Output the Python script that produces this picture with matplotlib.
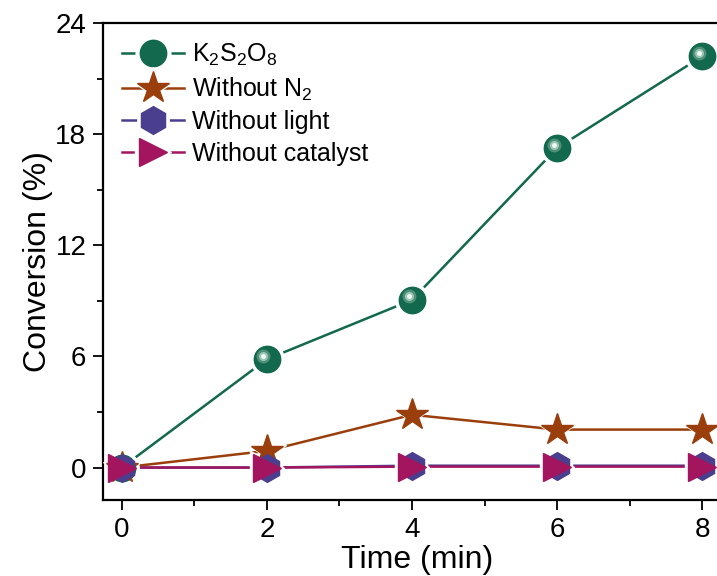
import matplotlib.pyplot as plt
import matplotlib.transforms as mtransforms
from matplotlib.legend_handler import HandlerTuple
from matplotlib.ticker import MultipleLocator

plt.rcParams["font.family"] = ["Liberation Sans", "DejaVu Sans"]
plt.rcParams["mathtext.fontset"] = "custom"
plt.rcParams["mathtext.rm"] = "Liberation Sans"

time_min = [0, 2, 4, 6, 8]
conv_k2s2o8 = [0, 5.85, 9.05, 17.25, 22.2]
conv_no_n2 = [0, 0.9, 2.85, 2.05, 2.05]
conv_no_light = [0, 0, 0.1, 0.1, 0.1]
conv_no_cat = [0, 0, 0.05, 0.05, 0.05]

GREEN = "#12694d"
BROWN = "#9a3e0b"
PURPLE = "#4a3f8e"
MAGENTA = "#a3155f"

fig = plt.figure(figsize=(7.17, 5.76), dpi=100)
ax = fig.add_axes([0.1437, 0.132, 0.876, 0.828])

series = [
    (conv_k2s2o8, GREEN, "o", 19, r"K$_2$S$_2$O$_8$"),
    (conv_no_n2, BROWN, "*", 24, r"Without N$_2$"),
    (conv_no_light, PURPLE, "h", 20, "Without light"),
    (conv_no_cat, MAGENTA, ">", 20, "Without catalyst"),
]

# lines first, then white halos (to gap the lines), then the markers
for vals, col, mk, ms, lab in series:
    ax.plot(time_min, vals, color=col, lw=1.8, zorder=2)
for vals, col, mk, ms, lab in series:
    ax.plot(time_min, vals, ls="none", marker=mk, ms=ms + 5, color="white",
            mec="white", zorder=3)
for i, (vals, col, mk, ms, lab) in enumerate(series):
    ax.plot(time_min, vals, ls="none", marker=mk, ms=ms, color=col,
            mec=col, zorder=4 + i)

# glossy highlight on the spheres
hl = mtransforms.offset_copy(ax.transData, fig=fig, x=-2.5, y=2.5, units="points")
ax.plot(time_min, conv_k2s2o8, ls="none", marker="o", ms=10, color="#4f9079",
        mec="none", transform=hl, zorder=4.5)
ax.plot(time_min, conv_k2s2o8, ls="none", marker="o", ms=6.5, color="#9cc7b7",
        mec="none", transform=hl, zorder=4.5)
ax.plot(time_min, conv_k2s2o8, ls="none", marker="o", ms=3.5, color="#f2f8f5",
        mec="none", transform=hl, zorder=4.5)

leg_handles = []
for vals, col, mk, ms, lab in series:
    line = plt.Line2D([], [], color=col, lw=1.8)
    halo = plt.Line2D([], [], ls="none", marker=mk, ms=ms + 6, color="white",
                      mec="white")
    mark = plt.Line2D([], [], ls="none", marker=mk, ms=ms, color=col, mec=col)
    leg_handles.append((line, halo, mark))
ax.legend(leg_handles, [s[4] for s in series], loc="upper left",
          frameon=False, fontsize=18, handlelength=2.5, handletextpad=0.3,
          labelspacing=0.3, borderaxespad=0.35, bbox_to_anchor=(0.0, 1.0),
          handler_map={tuple: HandlerTuple(ndivide=1, pad=0)})

ax.set_xlim(-0.26, 8.4)
ax.set_ylim(-1.75, 24)
ax.xaxis.set_major_locator(MultipleLocator(2))
ax.xaxis.set_minor_locator(MultipleLocator(1))
ax.yaxis.set_major_locator(MultipleLocator(6))
ax.yaxis.set_minor_locator(MultipleLocator(3))
ax.tick_params(which="both", direction="out", width=1.3, labelsize=20,
               top=False, right=False)
ax.tick_params(which="major", length=7, pad=5)
ax.tick_params(which="minor", length=4)
for s in ax.spines.values():
    s.set_linewidth(1.6)
ax.spines["right"].set_visible(False)

ax.set_xlabel("Time (min)", fontsize=23, labelpad=2)
ax.set_ylabel("Conversion (%)", fontsize=23, labelpad=2)

fig.savefig("out.png", dpi=100)
